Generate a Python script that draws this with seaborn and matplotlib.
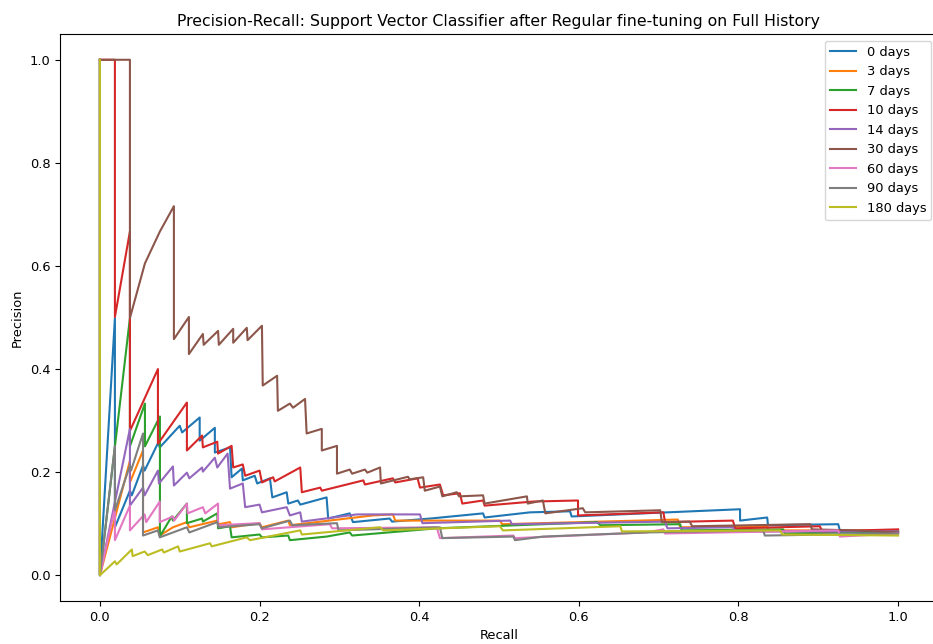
import matplotlib
matplotlib.use("Agg")
import matplotlib.pyplot as plt
import seaborn as sns
import pandas as pd

# Legend labels (look-back horizons)
labels = ["0 days", "3 days", "7 days", "10 days", "14 days",
          "30 days", "60 days", "90 days", "180 days"]

# (recall, precision) vertices, ordered by recall
pr_0 = [(0, 1.0), (0, 0), (0.0188, 0.499), (0.0188, 0.093), (0.0376, 0.164), (0.040, 0.155),
        (0.054, 0.213), (0.056, 0.203), (0.073, 0.257), (0.075, 0.248), (0.100, 0.290), (0.103, 0.277),
        (0.125, 0.306), (0.125, 0.261), (0.144, 0.286), (0.144, 0.238), (0.163, 0.248), (0.165, 0.190),
        (0.178, 0.207), (0.179, 0.184), (0.194, 0.193), (0.197, 0.178), (0.213, 0.188), (0.216, 0.151),
        (0.234, 0.161), (0.236, 0.139), (0.248, 0.145), (0.251, 0.137), (0.284, 0.151), (0.286, 0.110),
        (0.313, 0.120), (0.317, 0.103), (0.363, 0.110), (0.366, 0.104), (0.414, 0.110), (0.480, 0.120),
        (0.482, 0.112), (0.539, 0.122), (0.589, 0.124), (0.591, 0.114), (0.711, 0.122), (0.802, 0.128),
        (0.802, 0.106), (0.836, 0.112), (0.837, 0.097), (0.925, 0.099), (0.927, 0.087), (1.0, 0.083)]

pr_3 = [(0, 1.0), (0, 0), (0.0376, 0.222), (0.0376, 0.180), (0.054, 0.242), (0.054, 0.083),
        (0.0727, 0.093), (0.075, 0.077), (0.0915, 0.093), (0.109, 0.103), (0.112, 0.093), (0.147, 0.106),
        (0.149, 0.099), (0.163, 0.103), (0.165, 0.093), (0.200, 0.101), (0.203, 0.093), (0.236, 0.106),
        (0.238, 0.097), (0.342, 0.116), (0.367, 0.118), (0.370, 0.106), (0.501, 0.106), (0.504, 0.099),
        (0.724, 0.108), (0.727, 0.093), (0.836, 0.095), (0.838, 0.087), (1.0, 0.087)]

pr_7 = [(0, 1.0), (0, 0), (0.0376, 0.499), (0.0376, 0.250), (0.0564, 0.333), (0.0564, 0.250),
        (0.0752, 0.308), (0.0752, 0.0755), (0.090, 0.114), (0.0915, 0.106), (0.109, 0.139), (0.109, 0.101),
        (0.128, 0.110), (0.129, 0.104), (0.147, 0.120), (0.148, 0.091), (0.163, 0.095), (0.165, 0.0735),
        (0.200, 0.079), (0.203, 0.0735), (0.236, 0.077), (0.238, 0.068), (0.284, 0.075), (0.313, 0.083),
        (0.316, 0.077), (0.422, 0.091), (0.623, 0.103), (0.627, 0.097), (0.727, 0.099), (0.729, 0.087),
        (0.856, 0.089), (0.858, 0.081), (1.0, 0.085)]

pr_10 = [(0, 1.0), (0.0188, 1.0), (0.0188, 0.501), (0.0376, 0.667), (0.0376, 0.280), (0.0727, 0.400),
         (0.0727, 0.255), (0.109, 0.335), (0.109, 0.242), (0.128, 0.271), (0.129, 0.248), (0.147, 0.259),
         (0.148, 0.236), (0.165, 0.251), (0.167, 0.209), (0.179, 0.215), (0.182, 0.193), (0.200, 0.203),
         (0.203, 0.180), (0.217, 0.190), (0.219, 0.182), (0.251, 0.209), (0.253, 0.161), (0.276, 0.170),
         (0.278, 0.164), (0.330, 0.184), (0.332, 0.176), (0.367, 0.188), (0.370, 0.180), (0.398, 0.188),
         (0.401, 0.170), (0.426, 0.176), (0.430, 0.155), (0.451, 0.159), (0.454, 0.139), (0.480, 0.145),
         (0.482, 0.135), (0.543, 0.143), (0.599, 0.145), (0.599, 0.116), (0.706, 0.122), (0.708, 0.103),
         (0.793, 0.106), (0.796, 0.091), (0.902, 0.095), (0.905, 0.085), (1.0, 0.089)]

pr_14 = [(0, 1.0), (0, 0), (0.0376, 0.284), (0.0376, 0.135), (0.054, 0.170), (0.056, 0.155),
         (0.0727, 0.203), (0.074, 0.178), (0.0915, 0.211), (0.0927, 0.174), (0.109, 0.199), (0.112, 0.188),
         (0.128, 0.209), (0.129, 0.201), (0.144, 0.228), (0.147, 0.209), (0.160, 0.236), (0.163, 0.168),
         (0.179, 0.178), (0.182, 0.132), (0.200, 0.137), (0.203, 0.122), (0.234, 0.132), (0.238, 0.116),
         (0.251, 0.122), (0.253, 0.104), (0.322, 0.118), (0.401, 0.118), (0.404, 0.101), (0.514, 0.106),
         (0.516, 0.099), (0.708, 0.104), (0.711, 0.091), (0.793, 0.093), (0.796, 0.085), (1.0, 0.085)]

pr_30 = [(0, 1.0), (0.0376, 1.0), (0.0376, 0.499), (0.0564, 0.605), (0.0752, 0.667), (0.0927, 0.716),
         (0.0927, 0.458), (0.1115, 0.501), (0.1115, 0.429), (0.129, 0.468), (0.130, 0.447), (0.148, 0.474),
         (0.149, 0.447), (0.167, 0.478), (0.167, 0.451), (0.184, 0.480), (0.185, 0.456), (0.203, 0.484),
         (0.204, 0.368), (0.222, 0.387), (0.223, 0.319), (0.238, 0.333), (0.242, 0.325), (0.257, 0.342),
         (0.259, 0.275), (0.278, 0.284), (0.278, 0.242), (0.297, 0.251), (0.297, 0.197), (0.313, 0.205),
         (0.316, 0.197), (0.332, 0.205), (0.335, 0.199), (0.351, 0.209), (0.352, 0.178), (0.386, 0.191),
         (0.388, 0.186), (0.405, 0.190), (0.407, 0.164), (0.426, 0.172), (0.429, 0.153), (0.447, 0.161),
         (0.450, 0.153), (0.480, 0.155), (0.482, 0.139), (0.535, 0.153), (0.536, 0.139), (0.555, 0.145),
         (0.558, 0.120), (0.605, 0.130), (0.608, 0.122), (0.702, 0.126), (0.704, 0.103), (0.739, 0.104),
         (0.742, 0.095), (0.890, 0.099), (0.892, 0.089), (0.944, 0.087), (1.0, 0.083)]

pr_60 = [(0, 1.0), (0, 0), (0.0188, 0.131), (0.0188, 0.068), (0.0376, 0.135), (0.0376, 0.087),
         (0.056, 0.118), (0.058, 0.103), (0.075, 0.143), (0.075, 0.103), (0.0915, 0.114), (0.093, 0.106),
         (0.109, 0.139), (0.110, 0.120), (0.129, 0.132), (0.132, 0.120), (0.148, 0.139), (0.148, 0.097),
         (0.200, 0.101), (0.203, 0.089), (0.288, 0.099), (0.291, 0.091), (0.422, 0.093), (0.426, 0.072),
         (0.518, 0.077), (0.520, 0.072), (0.685, 0.083), (0.706, 0.089), (0.708, 0.081), (0.925, 0.087),
         (0.927, 0.075), (1.0, 0.081)]

pr_90 = [(0, 1.0), (0, 0), (0.0188, 0.251), (0.0188, 0.126), (0.0376, 0.213), (0.039, 0.203),
         (0.054, 0.275), (0.054, 0.077), (0.0727, 0.087), (0.075, 0.0735), (0.109, 0.093), (0.112, 0.083),
         (0.147, 0.103), (0.149, 0.093), (0.200, 0.099), (0.203, 0.091), (0.238, 0.106), (0.241, 0.097),
         (0.297, 0.101), (0.299, 0.087), (0.426, 0.093), (0.429, 0.072), (0.518, 0.075), (0.520, 0.068),
         (0.555, 0.075), (0.685, 0.083), (0.831, 0.087), (0.833, 0.077), (1.0, 0.081)]

pr_180 = [(0, 1.0), (0, 0), (0.0188, 0.027), (0.021, 0.021), (0.040, 0.050), (0.041, 0.037),
          (0.056, 0.046), (0.060, 0.039), (0.078, 0.050), (0.080, 0.044), (0.098, 0.056), (0.100, 0.046),
          (0.138, 0.062), (0.140, 0.056), (0.184, 0.0735), (0.188, 0.068), (0.251, 0.087), (0.253, 0.079),
          (0.351, 0.093), (0.355, 0.087), (0.501, 0.095), (0.505, 0.087), (0.652, 0.095), (0.654, 0.085),
          (0.852, 0.087), (0.855, 0.079), (1.0, 0.077)]

series = [pr_0, pr_3, pr_7, pr_10, pr_14, pr_30, pr_60, pr_90, pr_180]
colors = sns.color_palette("tab10", len(labels))

plt.rcParams["font.size"] = 9.4

W, H = 933, 644
fig = plt.figure(figsize=(W / 100, H / 100), dpi=100)
ax = fig.add_axes([60 / W, 43 / H, 878 / W, 567 / H])

for lab, pts, col in zip(labels, series, colors):
    df = pd.DataFrame(pts, columns=["Recall", "Precision"])
    sns.lineplot(data=df, x="Recall", y="Precision", sort=False, estimator=None,
                 color=col, label=lab, linewidth=1.5, ax=ax)

ax.set_xlim(-0.05, 1.05)
ax.set_ylim(-0.05, 1.05)
ax.set_xticks([0.0, 0.2, 0.4, 0.6, 0.8, 1.0])
ax.set_yticks([0.0, 0.2, 0.4, 0.6, 0.8, 1.0])
ax.set_xlabel("Recall")
ax.set_ylabel("Precision")
ax.set_title("Precision-Recall: Support Vector Classifier after Regular fine-tuning on Full History",
             fontsize=11.3)
ax.legend(loc="upper right")

fig.savefig("out.png", dpi=100)
